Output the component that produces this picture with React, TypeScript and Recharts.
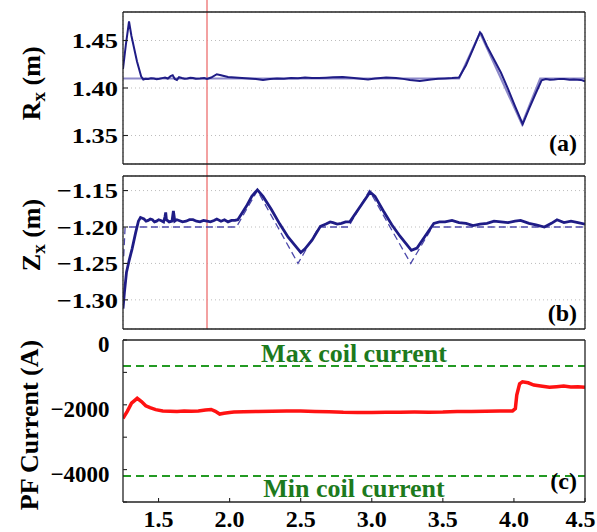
import React from 'react';
import { LineChart, Line, XAxis, YAxis, CartesianGrid, ReferenceLine } from 'recharts';

const FONT = '"Liberation Serif", "Times New Roman", Times, serif';

// ---- ticks ----
const xTicks = [1.5, 2.0, 2.5, 3.0, 3.5, 4.0, 4.5];
const rTicks = [1.35, 1.4, 1.45];
const zTicks = [-1.3, -1.25, -1.2, -1.15];
const pfTicks = [0, -1000, -2000, -3000, -4000, -5000];
const pfLabelTicks = [0, -2000, -4000];

// ---- domains ----
const xDomainAB = [1.2, 4.5];
const xDomainC = [1.25, 4.5];
const rDomain = [1.32, 1.48];
const zDomain = [-1.34, -1.13];
const pfDomain = [-5000, 0];

// ---- annotations ----
const markerTime = 1.8;
const maxCoilCurrent = -800;
const minCoilCurrent = -4200;

// ---- panel (a): R_x ----
const rxMeasured: [number, number][] = [
  [1.2, 1.42], [1.22, 1.445], [1.243, 1.47], [1.26, 1.455], [1.3, 1.428], [1.33, 1.412],
  [1.345, 1.409], [1.36, 1.4098], [1.38, 1.4095], [1.4, 1.4102], [1.42, 1.41], [1.44, 1.4093],
  [1.46, 1.4097], [1.48, 1.4104], [1.5, 1.411], [1.52, 1.41], [1.54, 1.4125], [1.555, 1.4135],
  [1.57, 1.4095], [1.585, 1.4085], [1.6, 1.4115], [1.62, 1.4105], [1.64, 1.4098], [1.66, 1.41],
  [1.68, 1.4108], [1.7, 1.4105], [1.72, 1.4097], [1.75, 1.41], [1.78, 1.4104], [1.8, 1.4095],
  [1.83, 1.411], [1.87, 1.4145], [1.9, 1.4135], [1.95, 1.4115], [2.0, 1.411], [2.05, 1.4105],
  [2.1, 1.41], [2.15, 1.4095], [2.2, 1.4085], [2.25, 1.4095], [2.3, 1.41], [2.35, 1.4098],
  [2.4, 1.4105], [2.45, 1.4102], [2.5, 1.411], [2.55, 1.4106], [2.6, 1.4105], [2.65, 1.4109],
  [2.7, 1.4112], [2.77, 1.4115], [2.85, 1.4105], [2.9, 1.4098], [2.95, 1.409], [3.0, 1.41],
  [3.04, 1.4106], [3.08, 1.411], [3.15, 1.4105], [3.2, 1.4096], [3.25, 1.4085], [3.32, 1.4075],
  [3.36, 1.4082], [3.4, 1.409], [3.45, 1.4097], [3.5, 1.41], [3.55, 1.4104], [3.6, 1.411],
  [3.65, 1.424], [3.7, 1.441], [3.75, 1.4585], [3.76, 1.457], [3.8, 1.444], [3.85, 1.43],
  [3.9, 1.416], [3.95, 1.399], [4.0, 1.381], [4.055, 1.362], [4.1, 1.378], [4.15, 1.395],
  [4.19, 1.408], [4.22, 1.4095], [4.25, 1.4088], [4.28, 1.409], [4.32, 1.4096], [4.35, 1.4095],
  [4.39, 1.4088], [4.42, 1.409], [4.47, 1.4085], [4.5, 1.407],
];
const rxReference: [number, number][] = [
  [1.2, 1.41], [3.6, 1.41], [3.75, 1.458], [4.05, 1.362], [4.18, 1.41], [4.5, 1.41],
];

// ---- panel (b): Z_x ----
const zxMeasured: [number, number][] = [
  [1.2, -1.312], [1.21, -1.29], [1.225, -1.262], [1.245, -1.245], [1.265, -1.23], [1.29, -1.208],
  [1.31, -1.192], [1.325, -1.187], [1.35, -1.189], [1.365, -1.192], [1.38, -1.191], [1.395, -1.189],
  [1.41, -1.19], [1.425, -1.193], [1.44, -1.192], [1.455, -1.19], [1.47, -1.191], [1.49, -1.193],
  [1.5, -1.186], [1.505, -1.18], [1.51, -1.19], [1.53, -1.193], [1.55, -1.192], [1.56, -1.178],
  [1.57, -1.192], [1.585, -1.19], [1.6, -1.191], [1.625, -1.193], [1.65, -1.192], [1.675, -1.19],
  [1.7, -1.19], [1.725, -1.192], [1.75, -1.193], [1.775, -1.191], [1.8, -1.192], [1.825, -1.193],
  [1.85, -1.191], [1.87, -1.189], [1.9, -1.192], [1.925, -1.19], [1.95, -1.193], [1.975, -1.191],
  [2.0, -1.191], [2.02, -1.19], [2.08, -1.172], [2.12, -1.158], [2.16, -1.149], [2.2, -1.158],
  [2.26, -1.176], [2.32, -1.196], [2.38, -1.214], [2.44, -1.228], [2.47, -1.235], [2.5, -1.23],
  [2.55, -1.218], [2.61, -1.199], [2.65, -1.196], [2.68, -1.193], [2.7, -1.194], [2.73, -1.196],
  [2.76, -1.195], [2.79, -1.193], [2.82, -1.193], [2.88, -1.176], [2.93, -1.162], [2.965, -1.152],
  [3.0, -1.158], [3.06, -1.178], [3.12, -1.197], [3.18, -1.213], [3.26, -1.232], [3.3, -1.229],
  [3.36, -1.212], [3.42, -1.195], [3.46, -1.193], [3.5, -1.193], [3.55, -1.191], [3.6, -1.194],
  [3.65, -1.195], [3.7, -1.198], [3.75, -1.196], [3.8, -1.195], [3.85, -1.192], [3.9, -1.193],
  [3.95, -1.194], [4.0, -1.192], [4.04, -1.191], [4.1, -1.195], [4.15, -1.197], [4.21, -1.2],
  [4.26, -1.195], [4.3, -1.19], [4.35, -1.194], [4.4, -1.192], [4.45, -1.194], [4.5, -1.196],
];
const zxReference: [number, number][] = [
  [1.205, -1.24], [1.215, -1.2], [2.01, -1.2], [2.16, -1.15], [2.45, -1.25], [2.6, -1.2],
  [2.81, -1.2], [2.96, -1.15], [3.255, -1.25], [3.41, -1.2], [4.5, -1.2],
];

// ---- panel (c): PF current ----
const pfCurrent: [number, number][] = [
  [1.25, -2420], [1.28, -2200], [1.31, -1950], [1.35, -1800], [1.38, -1900], [1.41, -2030],
  [1.44, -2090], [1.48, -2150], [1.53, -2190], [1.58, -2200], [1.63, -2210], [1.68, -2195],
  [1.73, -2200], [1.78, -2190], [1.83, -2160], [1.87, -2145], [1.9, -2200], [1.93, -2285],
  [1.96, -2260], [2.0, -2240], [2.03, -2225], [2.1, -2215], [2.2, -2205], [2.3, -2200],
  [2.4, -2195], [2.5, -2195], [2.6, -2205], [2.7, -2215], [2.8, -2230], [2.9, -2235],
  [3.0, -2235], [3.1, -2230], [3.2, -2230], [3.3, -2225], [3.4, -2228], [3.5, -2225],
  [3.6, -2210], [3.7, -2205], [3.8, -2200], [3.9, -2195], [3.99, -2190], [4.01, -2120],
  [4.02, -1700], [4.04, -1350], [4.06, -1290], [4.1, -1320], [4.14, -1390], [4.2, -1430],
  [4.25, -1460], [4.3, -1440], [4.35, -1420], [4.4, -1450], [4.45, -1440], [4.5, -1460],
];

const pts = (a: [number, number][]) => a.map(([x, y]) => ({ x, y }));

const AXIS = { stroke: '#222', strokeWidth: 1.3 };
const TICKLINE = { stroke: '#222', strokeWidth: 1.1 };
const NAVY = '#1f1c86';

const fmtSigned = (v: number, d: number) => (v < 0 ? '\u2212' + Math.abs(v).toFixed(d) : v.toFixed(d));

const YTickStretched = (props: any) => {
  const { x, y, payload } = props;
  return (
    <g transform={`translate(${x},${y}) scale(1.2,1)`}>
      <text x={0} y={0} dy="0.35em" textAnchor="end" fontFamily={FONT} fontWeight="bold" fontSize={22} fill="#000">
        {fmtSigned(payload.value, 2)}
      </text>
    </g>
  );
};

const YTickPF = (props: any) => {
  const { x, y, payload } = props;
  const v = Math.round(payload.value);
  if (!pfLabelTicks.includes(v)) return <g />;
  return (
    <text x={x} y={y + 4} dy="0.35em" textAnchor="end" fontFamily={FONT} fontWeight="bold" fontSize={23} fill="#000">
      {v === 0 ? '0' : '\u2212' + Math.abs(v)}
    </text>
  );
};

const XTick = (props: any) => {
  const { x, y, payload } = props;
  const cx = Math.min(x, 596 - 15.5);
  return (
    <text x={cx} y={y} dy="0.71em" textAnchor="middle" fontFamily={FONT} fontWeight="bold" fontSize={24} fill="#000">
      {payload.value.toFixed(1)}
    </text>
  );
};

const axisTitle = (main: string, sub: string, rest: string, dy: number, bx: number) => (p: any) => {
  const vb = p.viewBox;
  const cx = vb.x + bx;
  const cy = vb.y + vb.height / 2 + dy;
  return (
    <text transform={`translate(${cx},${cy}) rotate(-90)`} textAnchor="middle" fontFamily={FONT} fontWeight="bold" fontSize={26} fill="#000">
      {main}
      {sub ? <tspan dy={5} fontSize={19}>{sub}</tspan> : null}
      <tspan dy={sub ? -5 : 0}>{rest}</tspan>
    </text>
  );
};

const panelTag = (tag: string, up: number) => (p: any) => {
  const vb = p.viewBox;
  return (
    <text x={vb.x - 8} y={vb.y + vb.height - up} textAnchor="end" fontFamily={FONT} fontWeight="bold" fontSize={24} fill="#000">
      {tag}
    </text>
  );
};

const coilLabel = (text: string, above: boolean) => (p: any) => {
  const vb = p.viewBox;
  return (
    <text x={vb.x + vb.width / 2} y={above ? vb.y - 4 : vb.y + 20.5} textAnchor="middle" fontFamily={FONT} fontWeight="bold" fontSize={26} fill="#1d7a1d">
      {text}
    </text>
  );
};

export default function App() {
  return (
    <div style={{ position: 'absolute', left: 0, top: 0, width: 597, height: 532, background: '#fff' }}>
      {/* Panel (a) */}
      <div style={{ position: 'absolute', left: 0, top: 0 }}>
        <LineChart width={597} height={170} margin={{ top: 11, right: 11, bottom: 5, left: 0 }}>
          <CartesianGrid stroke="#bdbdbd" strokeDasharray="1 3" />
          <XAxis type="number" dataKey="x" domain={xDomainAB} ticks={xTicks} interval={0} allowDataOverflow height={1} tick={false} tickSize={-5} axisLine={AXIS} tickLine={TICKLINE} />
          <XAxis xAxisId="top" orientation="top" type="number" dataKey="x" domain={xDomainAB} ticks={xTicks} interval={0} allowDataOverflow height={1} tick={false} tickSize={-5} axisLine={AXIS} tickLine={TICKLINE} />
          <YAxis type="number" domain={rDomain} ticks={rTicks} interval={0} allowDataOverflow width={123} tick={<YTickStretched />} tickSize={-5} tickMargin={10} axisLine={AXIS} tickLine={TICKLINE} label={{ content: axisTitle('R', 'x', ' (m)', -4.7, 39.5) }} />
          <YAxis yAxisId="right" orientation="right" type="number" domain={rDomain} ticks={rTicks} interval={0} allowDataOverflow width={1} tick={false} tickSize={-5} axisLine={AXIS} tickLine={TICKLINE} label={{ content: panelTag('(a)', 13.5) }} />
          <ReferenceLine segment={[{ x: markerTime, y: 1.5 }, { x: markerTime, y: 1.29 }]} stroke="#f08a8a" strokeWidth={1.6} ifOverflow="visible" />
          <Line data={pts(rxReference)} dataKey="y" type="linear" stroke="#8d89c9" strokeWidth={2.2} dot={false} isAnimationActive={false} />
          <Line data={pts(rxMeasured)} dataKey="y" type="linear" stroke={NAVY} strokeWidth={2} dot={false} isAnimationActive={false} />
        </LineChart>
      </div>
      {/* Panel (b) */}
      <div style={{ position: 'absolute', left: 0, top: 170 }}>
        <LineChart width={597} height={165} margin={{ top: 5, right: 11, bottom: 5, left: 0 }}>
          <CartesianGrid stroke="#bdbdbd" strokeDasharray="1 3" />
          <XAxis type="number" dataKey="x" domain={xDomainAB} ticks={xTicks} interval={0} allowDataOverflow height={1} tick={false} tickSize={-5} axisLine={AXIS} tickLine={TICKLINE} />
          <XAxis xAxisId="top" orientation="top" type="number" dataKey="x" domain={xDomainAB} ticks={xTicks} interval={0} allowDataOverflow height={1} tick={false} tickSize={-5} axisLine={AXIS} tickLine={TICKLINE} />
          <YAxis type="number" domain={zDomain} ticks={zTicks} interval={0} allowDataOverflow width={123} tick={<YTickStretched />} tickSize={-5} tickMargin={10} axisLine={AXIS} tickLine={TICKLINE} label={{ content: axisTitle('Z', 'x', ' (m)', -17.5, 39.5) }} />
          <YAxis yAxisId="right" orientation="right" type="number" domain={zDomain} ticks={zTicks} interval={0} allowDataOverflow width={1} tick={false} tickSize={-5} axisLine={AXIS} tickLine={TICKLINE} label={{ content: panelTag('(b)', 8.5) }} />
          <ReferenceLine segment={[{ x: markerTime, y: -1.1 }, { x: markerTime, y: -1.34 }]} stroke="#f08a8a" strokeWidth={1.6} ifOverflow="visible" />
          <Line data={pts(zxReference)} dataKey="y" type="linear" stroke="#4c48aa" strokeWidth={1.3} strokeDasharray="7 4" dot={false} isAnimationActive={false} />
          <Line data={pts(zxMeasured)} dataKey="y" type="linear" stroke={NAVY} strokeWidth={2.8} dot={false} isAnimationActive={false} />
        </LineChart>
      </div>
      {/* Panel (c) */}
      <div style={{ position: 'absolute', left: 0, top: 325 }}>
        <LineChart width={597} height={207} margin={{ top: 14, right: 11, bottom: 0, left: 0 }}>
          <XAxis type="number" dataKey="x" domain={xDomainC} ticks={xTicks} interval={0} allowDataOverflow height={30} tick={<XTick />} tickSize={-4} tickMargin={12.3} axisLine={AXIS} tickLine={TICKLINE} />
          <XAxis xAxisId="top" orientation="top" type="number" dataKey="x" domain={xDomainC} ticks={xTicks} interval={0} allowDataOverflow height={1} tick={false} tickSize={-4} axisLine={AXIS} tickLine={TICKLINE} />
          <YAxis type="number" domain={pfDomain} ticks={pfTicks} interval={0} allowDataOverflow width={123} tick={<YTickPF />} tickSize={-4} tickMargin={17.5} axisLine={AXIS} tickLine={TICKLINE} label={{ content: axisTitle('PF Current (A)', '', '', 4, 38.3) }} />
          <YAxis yAxisId="right" orientation="right" type="number" domain={pfDomain} ticks={pfTicks} interval={0} allowDataOverflow width={1} tick={false} tickSize={-4} axisLine={AXIS} tickLine={TICKLINE} label={{ content: panelTag('(c)', 13) }} />
          <ReferenceLine y={maxCoilCurrent} stroke="#239a23" strokeWidth={2} strokeDasharray="8 5" label={{ content: coilLabel('Max coil current', true) }} />
          <ReferenceLine y={minCoilCurrent} stroke="#239a23" strokeWidth={2} strokeDasharray="8 5" label={{ content: coilLabel('Min coil current', false) }} />
          <Line data={pts(pfCurrent)} dataKey="y" type="linear" stroke="#ff1212" strokeWidth={3.5} dot={false} isAnimationActive={false} />
        </LineChart>
      </div>
    </div>
  );
}
